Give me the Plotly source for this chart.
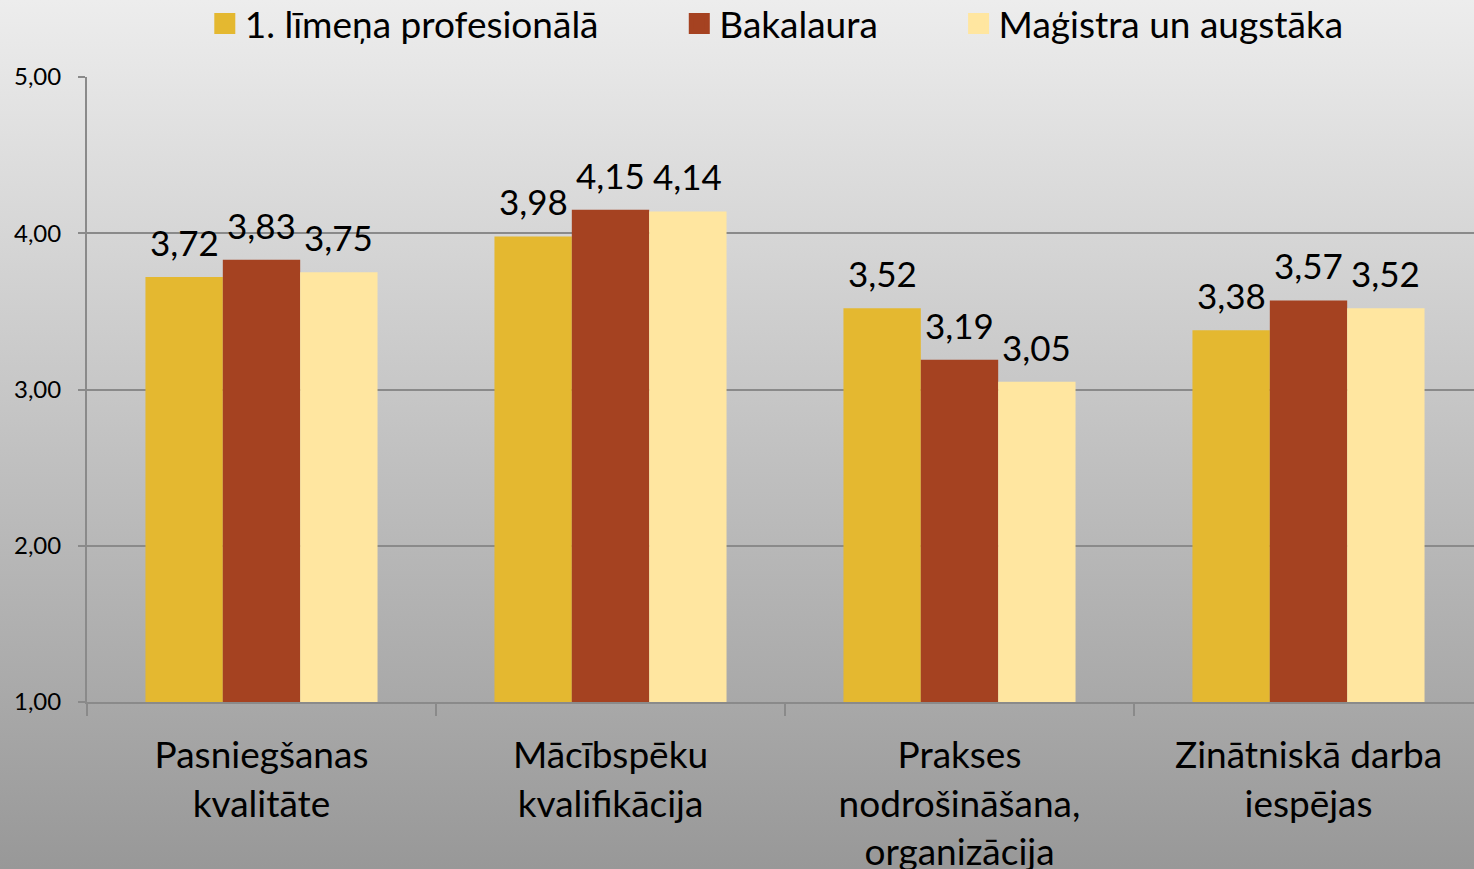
import base64
import plotly.graph_objects as go

categories = ["Pasniegšanas<br>kvalitāte", "Mācībspēku<br>kvalifikācija",
              "Prakses<br>nodrošināšana,<br>organizācija", "Zinātniskā darba<br>iespējas"]
series_names = ["1. līmeņa profesionālā", "Bakalaura", "Maģistra un augstāka"]
series_values = [
    [3.72, 3.98, 3.52, 3.38],
    [3.83, 4.15, 3.19, 3.57],
    [3.75, 4.14, 3.05, 3.52],
]
colors = ["#E4B830", "#A54221", "#FFE6A0"]
y_ticks = [1, 2, 3, 4, 5]

W, H = 1474, 869
ML, MR, MT, MB = 87, 0, 77, 167
PW, PH = W - ML - MR, H - MT - MB
CAT_PX = 349.0
BARGAP = 0.335
BAR_PX = CAT_PX * (1 - BARGAP) / len(series_names)

FONT = "Lato, 'Open Sans', sans-serif"
NBSP = "\u00a0"

fig = go.Figure()
annotations = []
n = len(series_names)
for i, (name, vals, col) in enumerate(zip(series_names, series_values, colors)):
    fig.add_trace(go.Bar(
        x=categories, y=vals, name=name, marker=dict(color=col, line=dict(width=0)),
        showlegend=False, hoverinfo="x+y",
    ))
    legend_name = name + (NBSP * 8 if i < n - 1 else "")
    fig.add_trace(go.Scatter(
        x=[None], y=[None], mode="markers", name=legend_name,
        marker=dict(symbol="square", size=16, color=col, line=dict(color=col, width=5)),
    ))
    for c, v in zip(categories, vals):
        annotations.append(dict(
            x=c, y=v, xref="x", yref="y", text=f"{v:.2f}".replace(".", ","),
            showarrow=False, yanchor="bottom", xanchor="center",
            xshift=(i - (n - 1) / 2) * BAR_PX, yshift=12,
            font=dict(size=35, color="black", family=FONT),
        ))

svg = ('<svg xmlns="http://www.w3.org/2000/svg" width="100" height="100" preserveAspectRatio="none">'
       '<defs><linearGradient id="g" x1="0" y1="0" x2="0" y2="1">'
       '<stop offset="0" stop-color="#EDEDED"/><stop offset="1" stop-color="#989898"/>'
       '</linearGradient></defs><rect width="100" height="100" fill="url(#g)"/></svg>')
src = "data:image/svg+xml;base64," + base64.b64encode(svg.encode()).decode()

fig.update_layout(
    width=W, height=H,
    margin=dict(l=ML, r=MR, t=MT, b=MB, autoexpand=False),
    paper_bgcolor="#C0C0C0", plot_bgcolor="rgba(0,0,0,0)",
    separators=", ",
    font=dict(family=FONT, color="black"),
    barmode="group", bargap=BARGAP, bargroupgap=0,
    annotations=annotations,
    images=[dict(source=src, xref="paper", yref="paper",
                 x=-ML / PW, y=1 + MT / PH, sizex=W / PW, sizey=H / PH,
                 xanchor="left", yanchor="top", sizing="stretch", layer="below")],
    legend=dict(orientation="h", xref="container", yref="paper",
                x=0.527, xanchor="center", y=1 + (MT + 7) / PH, yanchor="top",
                font=dict(size=37, family=FONT), bgcolor="rgba(0,0,0,0)",
                itemwidth=30, tracegroupgap=0),
    xaxis=dict(range=[-0.5, -0.5 + PW / CAT_PX], showline=True, linecolor="#8A8A8A", linewidth=2,
               ticks="outside", tickson="boundaries", ticklen=12, tickcolor="#8A8A8A", tickwidth=2,
               tickfont=dict(size=37, family=FONT), showgrid=False, ticklabelstandoff=20),
    yaxis=dict(range=[1, 5], tickvals=y_ticks, tickformat=".2f", showline=True,
               linecolor="#8A8A8A", linewidth=2, ticks="outside", ticklen=7,
               tickcolor="#8A8A8A", tickwidth=2, gridcolor="#8A8A8A", gridwidth=2,
               tickfont=dict(size=24, family=FONT), zeroline=False, ticklabelstandoff=12),
)

fig.write_html("out.html", config={"displayModeBar": False},
               post_script="document.body.style.margin='0';")
